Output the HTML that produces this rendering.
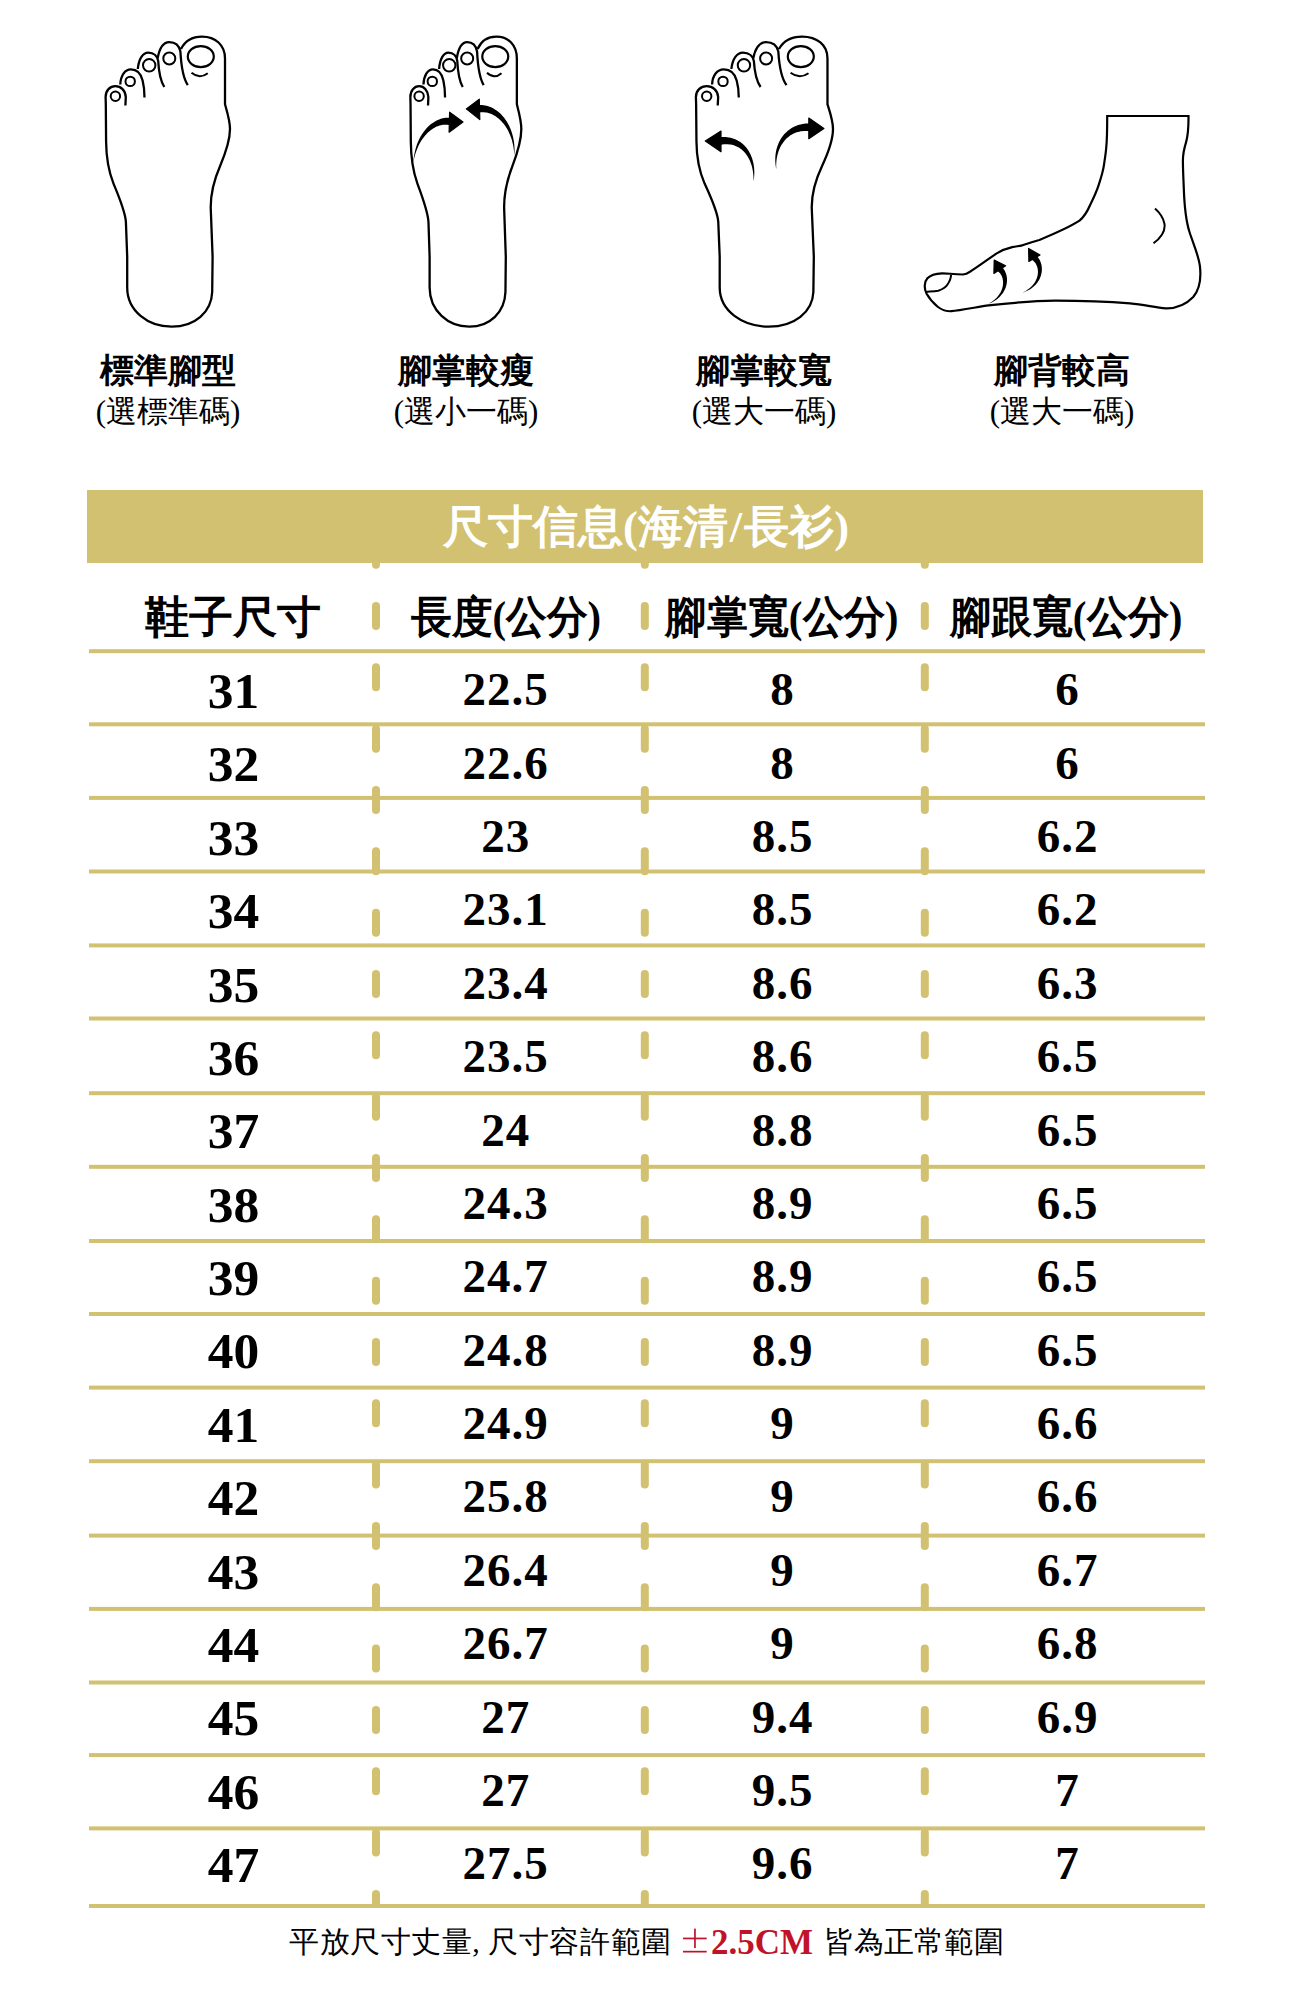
<!DOCTYPE html><html><head><meta charset="utf-8"><style>
html,body{margin:0;padding:0;background:#fff;}body{width:1292px;height:2000px;position:relative;overflow:hidden;font-family:"Liberation Serif",serif;color:#000;}
.t{position:absolute;white-space:nowrap;text-align:center;line-height:1;}
.lb{font-weight:bold;font-size:34px;width:300px;}
.sb{font-size:31px;width:300px;}
.n{font-weight:bold;font-size:47px;width:280px;letter-spacing:1px;text-indent:1px;}
.n1{font-weight:bold;font-size:51.5px;width:280px;}
.hd{font-weight:bold;font-size:44px;width:300px;}
</style></head><body>
<svg width="1292" height="2000" style="position:absolute;left:0;top:0"><g transform="translate(115.40,0) scale(1.0,1) translate(-115.4,0)"><path d="
M105.8,104 L105.6,97 C105.6,90.5 110,86.2 115.4,86.2 C121,86.2 125.4,90.5 125.8,97 L125.4,105.5
M120.3,84.5 C120.6,75.5 125,69.4 130.9,69.4 C137,69.4 141,74 142.6,80.5 C144,86 144.5,92 144.5,97.5
M137.8,69 C138.8,58.5 143,52.7 148.3,52.7 C154,52.7 157.4,56.5 158.2,61 C158.8,72 160.5,81 164.3,87
M157.6,58.5 C159.6,47.5 164,42.2 169.3,42.2 C175.5,42.2 179.2,46 180.4,51.5 C181.2,66 183,78 187.8,85.1
M181,49 C185,41 193,36.6 202,36.6 C215.5,36.6 225,45 225,58.5 L225,104.3
C227.5,113 230,121 230,129.1 C230,140 226.5,151 220,166.2 C214,180 210.7,195 210.7,207.2
L212.6,256.7 L212.2,292 C211.5,312 195,326.7 171.7,326.7 C148,326.7 127.2,311 127.2,287.6
L127.2,256.7 L125.9,222 C125.3,212 120,199 113.5,183.6 C108.5,171 106.2,155 106.1,141.5 L105.8,104
" fill="none" stroke="#000" stroke-width="2.3" vector-effect="non-scaling-stroke" stroke-linecap="butt" stroke-linejoin="round"/><path d="
M191.5,72.8 Q199.6,79.5 207.8,73.2
" fill="none" stroke="#000" stroke-width="2" vector-effect="non-scaling-stroke"/><ellipse cx="115.4" cy="96.3" rx="4.70" ry="4.7" fill="none" stroke="#000" stroke-width="2" vector-effect="non-scaling-stroke"/><ellipse cx="130.2" cy="81.4" rx="4.70" ry="4.7" fill="none" stroke="#000" stroke-width="2" vector-effect="non-scaling-stroke"/><ellipse cx="149.2" cy="65.3" rx="6.20" ry="6.2" fill="none" stroke="#000" stroke-width="2" vector-effect="non-scaling-stroke"/><ellipse cx="169.3" cy="58.5" rx="6.00" ry="6.0" fill="none" stroke="#000" stroke-width="2" vector-effect="non-scaling-stroke"/><ellipse cx="200.8" cy="56.6" rx="13.00" ry="10.5" fill="none" stroke="#000" stroke-width="2.2" vector-effect="non-scaling-stroke"/></g><g transform="translate(419.10,0) scale(0.892,1) translate(-115.4,0)"><path d="
M105.8,104 L105.6,97 C105.6,90.5 110,86.2 115.4,86.2 C121,86.2 125.4,90.5 125.8,97 L125.4,105.5
M120.3,84.5 C120.6,75.5 125,69.4 130.9,69.4 C137,69.4 141,74 142.6,80.5 C144,86 144.5,92 144.5,97.5
M137.8,69 C138.8,58.5 143,52.7 148.3,52.7 C154,52.7 157.4,56.5 158.2,61 C158.8,72 160.5,81 164.3,87
M157.6,58.5 C159.6,47.5 164,42.2 169.3,42.2 C175.5,42.2 179.2,46 180.4,51.5 C181.2,66 183,78 187.8,85.1
M181,49 C185,41 193,36.6 202,36.6 C215.5,36.6 225,45 225,58.5 L225,104.3
C227.5,113 230,121 230,129.1 C230,140 226.5,151 220,166.2 C214,180 210.7,195 210.7,207.2
L212.6,256.7 L212.2,292 C211.5,312 195,326.7 171.7,326.7 C148,326.7 127.2,311 127.2,287.6
L127.2,256.7 L125.9,222 C125.3,212 120,199 113.5,183.6 C108.5,171 106.2,155 106.1,141.5 L105.8,104
" fill="none" stroke="#000" stroke-width="2.3" vector-effect="non-scaling-stroke" stroke-linecap="butt" stroke-linejoin="round"/><path d="
M191.5,72.8 Q199.6,79.5 207.8,73.2
" fill="none" stroke="#000" stroke-width="2" vector-effect="non-scaling-stroke"/><ellipse cx="115.4" cy="96.3" rx="5.27" ry="4.7" fill="none" stroke="#000" stroke-width="2" vector-effect="non-scaling-stroke"/><ellipse cx="130.2" cy="81.4" rx="5.27" ry="4.7" fill="none" stroke="#000" stroke-width="2" vector-effect="non-scaling-stroke"/><ellipse cx="149.2" cy="65.3" rx="6.95" ry="6.2" fill="none" stroke="#000" stroke-width="2" vector-effect="non-scaling-stroke"/><ellipse cx="169.3" cy="58.5" rx="6.73" ry="6.0" fill="none" stroke="#000" stroke-width="2" vector-effect="non-scaling-stroke"/><ellipse cx="200.8" cy="56.6" rx="14.57" ry="10.5" fill="none" stroke="#000" stroke-width="2.2" vector-effect="non-scaling-stroke"/></g><g transform="translate(706.70,0) scale(1.102,1) translate(-115.4,0)"><path d="
M105.8,104 L105.6,97 C105.6,90.5 110,86.2 115.4,86.2 C121,86.2 125.4,90.5 125.8,97 L125.4,105.5
M120.3,84.5 C120.6,75.5 125,69.4 130.9,69.4 C137,69.4 141,74 142.6,80.5 C144,86 144.5,92 144.5,97.5
M137.8,69 C138.8,58.5 143,52.7 148.3,52.7 C154,52.7 157.4,56.5 158.2,61 C158.8,72 160.5,81 164.3,87
M157.6,58.5 C159.6,47.5 164,42.2 169.3,42.2 C175.5,42.2 179.2,46 180.4,51.5 C181.2,66 183,78 187.8,85.1
M181,49 C185,41 193,36.6 202,36.6 C215.5,36.6 225,45 225,58.5 L225,104.3
C227.5,113 230,121 230,129.1 C230,140 226.5,151 220,166.2 C214,180 210.7,195 210.7,207.2
L212.6,256.7 L212.2,292 C211.5,312 195,326.7 171.7,326.7 C148,326.7 127.2,311 127.2,287.6
L127.2,256.7 L125.9,222 C125.3,212 120,199 113.5,183.6 C108.5,171 106.2,155 106.1,141.5 L105.8,104
" fill="none" stroke="#000" stroke-width="2.3" vector-effect="non-scaling-stroke" stroke-linecap="butt" stroke-linejoin="round"/><path d="
M191.5,72.8 Q199.6,79.5 207.8,73.2
" fill="none" stroke="#000" stroke-width="2" vector-effect="non-scaling-stroke"/><ellipse cx="115.4" cy="96.3" rx="4.26" ry="4.7" fill="none" stroke="#000" stroke-width="2" vector-effect="non-scaling-stroke"/><ellipse cx="130.2" cy="81.4" rx="4.26" ry="4.7" fill="none" stroke="#000" stroke-width="2" vector-effect="non-scaling-stroke"/><ellipse cx="149.2" cy="65.3" rx="5.63" ry="6.2" fill="none" stroke="#000" stroke-width="2" vector-effect="non-scaling-stroke"/><ellipse cx="169.3" cy="58.5" rx="5.44" ry="6.0" fill="none" stroke="#000" stroke-width="2" vector-effect="non-scaling-stroke"/><ellipse cx="200.8" cy="56.6" rx="11.80" ry="10.5" fill="none" stroke="#000" stroke-width="2.2" vector-effect="non-scaling-stroke"/></g><path d="M449.6,112.2 L463,122 L449.1,132.2 Z" fill="#000" stroke="#000" stroke-width="1.2" stroke-linejoin="round"/><path d="M450.56,117.74 L449.38,117.65 L448.08,117.63 L446.78,117.67 L445.49,117.79 L444.20,117.98 L442.91,118.24 L441.63,118.57 L440.36,118.96 L439.11,119.42 L437.86,119.95 L436.63,120.53 L435.41,121.18 L434.21,121.89 L433.02,122.65 L431.86,123.48 L430.72,124.37 L429.59,125.31 L428.50,126.31 L427.42,127.37 L426.37,128.48 L425.35,129.65 L424.36,130.88 L423.40,132.16 L422.48,133.49 L421.58,134.88 L420.73,136.32 L419.90,137.82 L419.12,139.37 L418.38,140.97 L417.68,142.62 L417.02,144.33 L416.41,146.09 L415.85,147.90 L415.33,149.76 L414.87,151.67 L414.46,153.64 L414.10,155.65 L413.80,157.72 L413.56,159.83 L413.40,162.00 L413.40,162.00 L413.83,159.87 L414.31,157.81 L414.82,155.81 L415.39,153.87 L415.99,151.99 L416.65,150.18 L417.34,148.42 L418.08,146.74 L418.85,145.11 L419.66,143.55 L420.50,142.05 L421.37,140.61 L422.27,139.24 L423.20,137.93 L424.16,136.68 L425.14,135.50 L426.13,134.38 L427.15,133.32 L428.18,132.32 L429.23,131.39 L430.28,130.52 L431.35,129.71 L432.42,128.97 L433.49,128.28 L434.57,127.66 L435.65,127.09 L436.72,126.59 L437.79,126.15 L438.85,125.77 L439.90,125.44 L440.94,125.18 L441.96,124.97 L442.97,124.82 L443.95,124.73 L444.91,124.68 L445.85,124.69 L446.77,124.76 L447.65,124.87 L448.51,125.03 L449.44,125.26 Z" fill="#000"/><path d="M466.3,108.9 L479.3,99.2 L479.8,119.6 Z" fill="#000" stroke="#000" stroke-width="1.2" stroke-linejoin="round"/><path d="M479.23,112.49 L480.53,112.33 L481.73,112.24 L482.93,112.22 L484.13,112.28 L485.33,112.40 L486.53,112.59 L487.73,112.85 L488.92,113.18 L490.12,113.58 L491.30,114.04 L492.48,114.58 L493.65,115.19 L494.81,115.86 L495.96,116.60 L497.09,117.40 L498.20,118.27 L499.29,119.21 L500.36,120.21 L501.41,121.27 L502.43,122.39 L503.42,123.58 L504.37,124.82 L505.30,126.11 L506.19,127.47 L507.05,128.87 L507.86,130.33 L508.64,131.84 L509.37,133.40 L510.06,135.01 L510.71,136.67 L511.31,138.37 L511.85,140.12 L512.35,141.90 L512.79,143.73 L513.18,145.60 L513.52,147.51 L513.80,149.45 L514.02,151.44 L514.18,153.45 L514.30,155.50 L514.30,155.50 L514.46,153.45 L514.53,151.42 L514.53,149.40 L514.47,147.41 L514.34,145.45 L514.15,143.50 L513.90,141.59 L513.59,139.70 L513.22,137.85 L512.79,136.03 L512.31,134.24 L511.78,132.48 L511.18,130.76 L510.54,129.08 L509.85,127.45 L509.11,125.85 L508.31,124.29 L507.47,122.78 L506.58,121.32 L505.65,119.91 L504.67,118.54 L503.65,117.23 L502.58,115.97 L501.47,114.76 L500.32,113.62 L499.13,112.53 L497.89,111.50 L496.62,110.54 L495.31,109.64 L493.96,108.81 L492.57,108.05 L491.15,107.37 L489.69,106.76 L488.20,106.24 L486.67,105.79 L485.12,105.43 L483.54,105.16 L481.93,104.99 L480.31,104.90 L478.77,104.91 Z" fill="#000"/><path d="M705.3,140.9 L721,131.1 L721,151.7 Z" fill="#000" stroke="#000" stroke-width="1.2" stroke-linejoin="round"/><path d="M720.91,144.78 L722.48,144.53 L723.92,144.36 L725.33,144.26 L726.70,144.24 L728.05,144.28 L729.36,144.39 L730.65,144.57 L731.90,144.81 L733.13,145.12 L734.33,145.49 L735.50,145.92 L736.64,146.42 L737.76,146.98 L738.84,147.60 L739.90,148.28 L740.93,149.02 L741.92,149.82 L742.88,150.67 L743.81,151.59 L744.71,152.56 L745.57,153.59 L746.39,154.67 L747.18,155.81 L747.92,157.00 L748.62,158.23 L749.28,159.52 L749.90,160.85 L750.47,162.22 L750.99,163.64 L751.47,165.09 L751.90,166.59 L752.28,168.12 L752.61,169.69 L752.89,171.29 L753.12,172.92 L753.30,174.59 L753.42,176.28 L753.50,177.99 L753.52,179.73 L753.50,181.50 L753.50,181.50 L753.80,179.75 L754.02,178.01 L754.18,176.28 L754.28,174.56 L754.32,172.86 L754.30,171.16 L754.23,169.49 L754.09,167.83 L753.90,166.19 L753.65,164.58 L753.35,162.98 L752.98,161.42 L752.57,159.88 L752.09,158.37 L751.56,156.89 L750.97,155.45 L750.32,154.04 L749.62,152.66 L748.86,151.33 L748.04,150.04 L747.16,148.79 L746.23,147.58 L745.24,146.43 L744.19,145.32 L743.08,144.27 L741.91,143.28 L740.69,142.35 L739.40,141.48 L738.06,140.68 L736.67,139.94 L735.22,139.28 L733.72,138.69 L732.17,138.19 L730.56,137.76 L728.91,137.42 L727.21,137.16 L725.47,136.99 L723.69,136.91 L721.86,136.93 L720.09,137.02 Z" fill="#000"/><path d="M823.9,128.4 L808.8,118.1 L808.8,138.7 Z" fill="#000" stroke="#000" stroke-width="1.2" stroke-linejoin="round"/><path d="M809.44,123.40 L807.69,123.43 L805.88,123.54 L804.12,123.74 L802.39,124.02 L800.71,124.38 L799.07,124.81 L797.48,125.33 L795.94,125.92 L794.44,126.58 L793.00,127.31 L791.60,128.10 L790.26,128.96 L788.98,129.88 L787.75,130.86 L786.57,131.89 L785.45,132.98 L784.39,134.11 L783.38,135.30 L782.43,136.53 L781.54,137.80 L780.70,139.11 L779.92,140.46 L779.21,141.85 L778.55,143.27 L777.95,144.73 L777.40,146.22 L776.92,147.73 L776.50,149.27 L776.14,150.84 L775.84,152.43 L775.60,154.04 L775.42,155.67 L775.30,157.32 L775.25,158.98 L775.26,160.66 L775.33,162.35 L775.47,164.05 L775.67,165.76 L775.94,167.48 L776.30,169.20 L776.30,169.20 L776.23,167.45 L776.20,165.73 L776.22,164.03 L776.31,162.36 L776.46,160.71 L776.66,159.09 L776.92,157.50 L777.23,155.95 L777.60,154.43 L778.02,152.94 L778.49,151.49 L779.02,150.07 L779.59,148.70 L780.21,147.37 L780.88,146.08 L781.59,144.83 L782.35,143.64 L783.14,142.48 L783.98,141.38 L784.86,140.33 L785.78,139.32 L786.74,138.37 L787.73,137.48 L788.75,136.63 L789.81,135.85 L790.90,135.11 L792.01,134.44 L793.16,133.82 L794.34,133.26 L795.55,132.76 L796.78,132.32 L798.04,131.94 L799.32,131.63 L800.64,131.37 L801.98,131.18 L803.34,131.05 L804.74,130.98 L806.15,130.98 L807.60,131.05 L809.16,131.20 Z" fill="#000"/><path d="M1107.2,116 L1188.5,116 C1188.6,126 1187.8,136 1186.1,142.2 C1184.3,148 1182.9,153 1182.9,160.7 C1182.9,170 1183.5,180 1183.8,188.6 C1184.3,203 1185,218 1189.5,232 C1193,243 1198.5,255 1199.9,266 C1201.3,278 1199,290 1193.2,297 C1186,304.5 1176,308.5 1166,308.3 C1155,307.8 1145,304.5 1130,303.4 C1105,301.5 1080,300.8 1055,300.7 C1035,300.8 1015,302.5 988.5,305.4 C980,306.5 960,310.5 951.4,311.2 C947,311.5 941,309.5 938,307 C933,303 929,298 926.6,293.8 C924,289 924,282 927.4,278.3 C930,275.5 935,273.5 942.1,273.3 C948,273.2 953,274.5 963,274.5 C966,274.3 968,273.2 969.2,272.2 C975,268.8 985,261.5 996.3,253.6 C1001,250.8 1008,248 1012.2,247.1 C1016,246.3 1019,246.2 1021.4,245.6 C1027,244.2 1033,241.5 1039.4,240 C1055,233.5 1070,227 1079.5,220.7 C1085,216 1088,210 1090,205.3 C1094,197 1097,190 1098.4,185.8 C1101,178 1103,172 1103.9,165.4 C1105,158 1106,152 1106.3,146.8 C1107,140 1107.2,133 1107.2,116 Z" fill="none" stroke="#000" stroke-width="2.2" stroke-linejoin="miter"/><path d="M925.8,291.9 C930,291.5 934,291.5 938.2,290.7 C942,289.5 946,287 947.5,284.5 C949.5,281.5 951,278 951,274.9 M1155,208.6 C1160,213 1163.4,218 1164.5,224 C1165.3,230 1163.5,236 1153.5,243.3" fill="none" stroke="#000" stroke-width="2"/><path d="M994.2,260.1 L1005.6,265.7 L993.9,273.4 Z" fill="#000" stroke="#000" stroke-width="1.2" stroke-linejoin="round"/><path d="M997.55,271.08 L998.17,271.53 L998.70,271.95 L999.21,272.42 L999.69,272.93 L1000.15,273.47 L1000.58,274.05 L1000.98,274.67 L1001.35,275.33 L1001.69,276.02 L1002.00,276.74 L1002.27,277.50 L1002.51,278.28 L1002.70,279.09 L1002.86,279.92 L1002.97,280.78 L1003.05,281.66 L1003.07,282.56 L1003.05,283.48 L1002.99,284.41 L1002.88,285.35 L1002.71,286.31 L1002.50,287.27 L1002.23,288.25 L1001.91,289.22 L1001.54,290.20 L1001.10,291.19 L1000.61,292.17 L1000.07,293.14 L999.46,294.12 L998.79,295.08 L998.06,296.04 L997.27,296.98 L996.41,297.91 L995.48,298.83 L994.49,299.72 L993.43,300.60 L992.30,301.46 L991.10,302.29 L989.83,303.10 L988.50,303.90 L988.50,303.90 L989.95,303.33 L991.33,302.70 L992.65,302.02 L993.91,301.30 L995.11,300.54 L996.24,299.75 L997.32,298.92 L998.34,298.06 L999.30,297.18 L1000.21,296.27 L1001.06,295.33 L1001.84,294.36 L1002.58,293.38 L1003.25,292.38 L1003.87,291.36 L1004.43,290.32 L1004.94,289.28 L1005.39,288.22 L1005.79,287.15 L1006.12,286.07 L1006.41,284.99 L1006.64,283.91 L1006.81,282.83 L1006.93,281.74 L1007.00,280.67 L1007.01,279.59 L1006.96,278.53 L1006.86,277.47 L1006.71,276.43 L1006.50,275.40 L1006.24,274.39 L1005.92,273.39 L1005.55,272.42 L1005.12,271.47 L1004.64,270.55 L1004.10,269.66 L1003.50,268.80 L1002.85,267.98 L1002.14,267.20 L1001.45,266.52 Z" fill="#000"/><path d="M1028.6,248.4 L1040,254.9 L1028.9,261.4 Z" fill="#000" stroke="#000" stroke-width="1.2" stroke-linejoin="round"/><path d="M1032.28,260.11 L1032.93,260.56 L1033.47,260.98 L1033.98,261.45 L1034.48,261.97 L1034.95,262.52 L1035.39,263.12 L1035.81,263.76 L1036.19,264.43 L1036.54,265.14 L1036.86,265.88 L1037.13,266.65 L1037.37,267.46 L1037.57,268.29 L1037.73,269.14 L1037.84,270.02 L1037.91,270.92 L1037.93,271.84 L1037.91,272.77 L1037.83,273.71 L1037.70,274.67 L1037.53,275.64 L1037.29,276.61 L1037.01,277.58 L1036.67,278.56 L1036.26,279.54 L1035.81,280.52 L1035.29,281.49 L1034.70,282.45 L1034.06,283.41 L1033.35,284.35 L1032.57,285.28 L1031.73,286.19 L1030.81,287.08 L1029.83,287.95 L1028.78,288.79 L1027.65,289.61 L1026.45,290.40 L1025.17,291.16 L1023.82,291.89 L1022.40,292.60 L1022.40,292.60 L1023.92,292.13 L1025.37,291.58 L1026.76,290.98 L1028.08,290.34 L1029.34,289.64 L1030.54,288.91 L1031.68,288.13 L1032.75,287.32 L1033.76,286.47 L1034.71,285.59 L1035.61,284.68 L1036.44,283.73 L1037.21,282.76 L1037.92,281.77 L1038.57,280.75 L1039.17,279.72 L1039.70,278.67 L1040.17,277.60 L1040.59,276.52 L1040.95,275.43 L1041.24,274.33 L1041.49,273.23 L1041.67,272.13 L1041.80,271.02 L1041.86,269.92 L1041.88,268.82 L1041.83,267.73 L1041.73,266.65 L1041.57,265.59 L1041.36,264.53 L1041.08,263.50 L1040.76,262.48 L1040.37,261.49 L1039.93,260.52 L1039.42,259.58 L1038.86,258.67 L1038.25,257.80 L1037.57,256.96 L1036.83,256.17 L1036.12,255.49 Z" fill="#000"/><rect x="87" y="490" width="1116" height="73" fill="#D2C171"/><rect x="89" y="649.2" width="1116" height="4" fill="#D2C171"/><rect x="89" y="722.3" width="1116" height="4" fill="#D2C171"/><rect x="89" y="795.9" width="1116" height="4" fill="#D2C171"/><rect x="89" y="869.5" width="1116" height="4" fill="#D2C171"/><rect x="89" y="943.4" width="1116" height="4" fill="#D2C171"/><rect x="89" y="1016.5" width="1116" height="4" fill="#D2C171"/><rect x="89" y="1091.2" width="1116" height="4" fill="#D2C171"/><rect x="89" y="1164.8" width="1116" height="4" fill="#D2C171"/><rect x="89" y="1239.0" width="1116" height="4" fill="#D2C171"/><rect x="89" y="1312.0" width="1116" height="4" fill="#D2C171"/><rect x="89" y="1385.6" width="1116" height="4" fill="#D2C171"/><rect x="89" y="1459.2" width="1116" height="4" fill="#D2C171"/><rect x="89" y="1533.6" width="1116" height="4" fill="#D2C171"/><rect x="89" y="1606.9" width="1116" height="4" fill="#D2C171"/><rect x="89" y="1680.5" width="1116" height="4" fill="#D2C171"/><rect x="89" y="1753.1" width="1116" height="4" fill="#D2C171"/><rect x="89" y="1826.4" width="1116" height="4" fill="#D2C171"/><rect x="89" y="1904.0" width="1116" height="4" fill="#D2C171"/><clipPath id="vc"><rect x="0" y="563" width="1292" height="1345"/></clipPath><g clip-path="url(#vc)"><rect x="372.0" y="540.67" width="8" height="28" rx="4" ry="4" fill="#D2C171"/><rect x="372.0" y="602.00" width="8" height="28" rx="4" ry="4" fill="#D2C171"/><rect x="372.0" y="663.33" width="8" height="28" rx="4" ry="4" fill="#D2C171"/><rect x="372.0" y="724.66" width="8" height="28" rx="4" ry="4" fill="#D2C171"/><rect x="372.0" y="785.99" width="8" height="28" rx="4" ry="4" fill="#D2C171"/><rect x="372.0" y="847.32" width="8" height="28" rx="4" ry="4" fill="#D2C171"/><rect x="372.0" y="908.65" width="8" height="28" rx="4" ry="4" fill="#D2C171"/><rect x="372.0" y="969.98" width="8" height="28" rx="4" ry="4" fill="#D2C171"/><rect x="372.0" y="1031.31" width="8" height="28" rx="4" ry="4" fill="#D2C171"/><rect x="372.0" y="1092.64" width="8" height="28" rx="4" ry="4" fill="#D2C171"/><rect x="372.0" y="1153.97" width="8" height="28" rx="4" ry="4" fill="#D2C171"/><rect x="372.0" y="1215.30" width="8" height="28" rx="4" ry="4" fill="#D2C171"/><rect x="372.0" y="1276.63" width="8" height="28" rx="4" ry="4" fill="#D2C171"/><rect x="372.0" y="1337.96" width="8" height="28" rx="4" ry="4" fill="#D2C171"/><rect x="372.0" y="1399.29" width="8" height="28" rx="4" ry="4" fill="#D2C171"/><rect x="372.0" y="1460.62" width="8" height="28" rx="4" ry="4" fill="#D2C171"/><rect x="372.0" y="1521.95" width="8" height="28" rx="4" ry="4" fill="#D2C171"/><rect x="372.0" y="1583.28" width="8" height="28" rx="4" ry="4" fill="#D2C171"/><rect x="372.0" y="1644.61" width="8" height="28" rx="4" ry="4" fill="#D2C171"/><rect x="372.0" y="1705.94" width="8" height="28" rx="4" ry="4" fill="#D2C171"/><rect x="372.0" y="1767.27" width="8" height="28" rx="4" ry="4" fill="#D2C171"/><rect x="372.0" y="1828.60" width="8" height="28" rx="4" ry="4" fill="#D2C171"/><rect x="372.0" y="1889.93" width="8" height="28" rx="4" ry="4" fill="#D2C171"/><rect x="640.8" y="540.67" width="8" height="28" rx="4" ry="4" fill="#D2C171"/><rect x="640.8" y="602.00" width="8" height="28" rx="4" ry="4" fill="#D2C171"/><rect x="640.8" y="663.33" width="8" height="28" rx="4" ry="4" fill="#D2C171"/><rect x="640.8" y="724.66" width="8" height="28" rx="4" ry="4" fill="#D2C171"/><rect x="640.8" y="785.99" width="8" height="28" rx="4" ry="4" fill="#D2C171"/><rect x="640.8" y="847.32" width="8" height="28" rx="4" ry="4" fill="#D2C171"/><rect x="640.8" y="908.65" width="8" height="28" rx="4" ry="4" fill="#D2C171"/><rect x="640.8" y="969.98" width="8" height="28" rx="4" ry="4" fill="#D2C171"/><rect x="640.8" y="1031.31" width="8" height="28" rx="4" ry="4" fill="#D2C171"/><rect x="640.8" y="1092.64" width="8" height="28" rx="4" ry="4" fill="#D2C171"/><rect x="640.8" y="1153.97" width="8" height="28" rx="4" ry="4" fill="#D2C171"/><rect x="640.8" y="1215.30" width="8" height="28" rx="4" ry="4" fill="#D2C171"/><rect x="640.8" y="1276.63" width="8" height="28" rx="4" ry="4" fill="#D2C171"/><rect x="640.8" y="1337.96" width="8" height="28" rx="4" ry="4" fill="#D2C171"/><rect x="640.8" y="1399.29" width="8" height="28" rx="4" ry="4" fill="#D2C171"/><rect x="640.8" y="1460.62" width="8" height="28" rx="4" ry="4" fill="#D2C171"/><rect x="640.8" y="1521.95" width="8" height="28" rx="4" ry="4" fill="#D2C171"/><rect x="640.8" y="1583.28" width="8" height="28" rx="4" ry="4" fill="#D2C171"/><rect x="640.8" y="1644.61" width="8" height="28" rx="4" ry="4" fill="#D2C171"/><rect x="640.8" y="1705.94" width="8" height="28" rx="4" ry="4" fill="#D2C171"/><rect x="640.8" y="1767.27" width="8" height="28" rx="4" ry="4" fill="#D2C171"/><rect x="640.8" y="1828.60" width="8" height="28" rx="4" ry="4" fill="#D2C171"/><rect x="640.8" y="1889.93" width="8" height="28" rx="4" ry="4" fill="#D2C171"/><rect x="920.8" y="540.67" width="8" height="28" rx="4" ry="4" fill="#D2C171"/><rect x="920.8" y="602.00" width="8" height="28" rx="4" ry="4" fill="#D2C171"/><rect x="920.8" y="663.33" width="8" height="28" rx="4" ry="4" fill="#D2C171"/><rect x="920.8" y="724.66" width="8" height="28" rx="4" ry="4" fill="#D2C171"/><rect x="920.8" y="785.99" width="8" height="28" rx="4" ry="4" fill="#D2C171"/><rect x="920.8" y="847.32" width="8" height="28" rx="4" ry="4" fill="#D2C171"/><rect x="920.8" y="908.65" width="8" height="28" rx="4" ry="4" fill="#D2C171"/><rect x="920.8" y="969.98" width="8" height="28" rx="4" ry="4" fill="#D2C171"/><rect x="920.8" y="1031.31" width="8" height="28" rx="4" ry="4" fill="#D2C171"/><rect x="920.8" y="1092.64" width="8" height="28" rx="4" ry="4" fill="#D2C171"/><rect x="920.8" y="1153.97" width="8" height="28" rx="4" ry="4" fill="#D2C171"/><rect x="920.8" y="1215.30" width="8" height="28" rx="4" ry="4" fill="#D2C171"/><rect x="920.8" y="1276.63" width="8" height="28" rx="4" ry="4" fill="#D2C171"/><rect x="920.8" y="1337.96" width="8" height="28" rx="4" ry="4" fill="#D2C171"/><rect x="920.8" y="1399.29" width="8" height="28" rx="4" ry="4" fill="#D2C171"/><rect x="920.8" y="1460.62" width="8" height="28" rx="4" ry="4" fill="#D2C171"/><rect x="920.8" y="1521.95" width="8" height="28" rx="4" ry="4" fill="#D2C171"/><rect x="920.8" y="1583.28" width="8" height="28" rx="4" ry="4" fill="#D2C171"/><rect x="920.8" y="1644.61" width="8" height="28" rx="4" ry="4" fill="#D2C171"/><rect x="920.8" y="1705.94" width="8" height="28" rx="4" ry="4" fill="#D2C171"/><rect x="920.8" y="1767.27" width="8" height="28" rx="4" ry="4" fill="#D2C171"/><rect x="920.8" y="1828.60" width="8" height="28" rx="4" ry="4" fill="#D2C171"/><rect x="920.8" y="1889.93" width="8" height="28" rx="4" ry="4" fill="#D2C171"/></g></svg>
<div class="t lb" style="left:18px;top:354px">標準腳型</div>
<div class="t sb" style="left:18px;top:395.5px">(選標準碼)</div>
<div class="t lb" style="left:316px;top:354px">腳掌較瘦</div>
<div class="t sb" style="left:316px;top:395.5px">(選小一碼)</div>
<div class="t lb" style="left:614px;top:354px">腳掌較寬</div>
<div class="t sb" style="left:614px;top:395.5px">(選大一碼)</div>
<div class="t lb" style="left:912px;top:354px">腳背較高</div>
<div class="t sb" style="left:912px;top:395.5px">(選大一碼)</div>
<div class="t" style="left:346px;width:600px;top:505px;font-size:44.5px;font-weight:bold;color:#fff">尺寸信息(海清<span style="margin:0 2px">/</span>長衫)</div>
<div class="t hd" style="left:82.5px;top:596px;transform:scaleX(1.0)">鞋子尺寸</div>
<div class="t hd" style="left:355.5px;top:596px;transform:scaleX(0.925)">長度(公分)</div>
<div class="t hd" style="left:632px;top:596px;transform:scaleX(0.935)">腳掌寬(公分)</div>
<div class="t hd" style="left:916px;top:596px;transform:scaleX(0.934)">腳跟寬(公分)</div>
<div class="t n1" style="left:93.5px;top:665.0px">31</div>
<div class="t n" style="left:365.2px;top:666.2px">22.5</div>
<div class="t n" style="left:642px;top:666.2px">8</div>
<div class="t n" style="left:927px;top:666.2px">6</div>
<div class="t n1" style="left:93.5px;top:738.4px">32</div>
<div class="t n" style="left:365.2px;top:739.6px">22.6</div>
<div class="t n" style="left:642px;top:739.6px">8</div>
<div class="t n" style="left:927px;top:739.6px">6</div>
<div class="t n1" style="left:93.5px;top:811.8px">33</div>
<div class="t n" style="left:365.2px;top:813.0px">23</div>
<div class="t n" style="left:642px;top:813.0px">8.5</div>
<div class="t n" style="left:927px;top:813.0px">6.2</div>
<div class="t n1" style="left:93.5px;top:885.1px">34</div>
<div class="t n" style="left:365.2px;top:886.3px">23.1</div>
<div class="t n" style="left:642px;top:886.3px">8.5</div>
<div class="t n" style="left:927px;top:886.3px">6.2</div>
<div class="t n1" style="left:93.5px;top:958.5px">35</div>
<div class="t n" style="left:365.2px;top:959.7px">23.4</div>
<div class="t n" style="left:642px;top:959.7px">8.6</div>
<div class="t n" style="left:927px;top:959.7px">6.3</div>
<div class="t n1" style="left:93.5px;top:1031.9px">36</div>
<div class="t n" style="left:365.2px;top:1033.1px">23.5</div>
<div class="t n" style="left:642px;top:1033.1px">8.6</div>
<div class="t n" style="left:927px;top:1033.1px">6.5</div>
<div class="t n1" style="left:93.5px;top:1105.3px">37</div>
<div class="t n" style="left:365.2px;top:1106.5px">24</div>
<div class="t n" style="left:642px;top:1106.5px">8.8</div>
<div class="t n" style="left:927px;top:1106.5px">6.5</div>
<div class="t n1" style="left:93.5px;top:1178.6px">38</div>
<div class="t n" style="left:365.2px;top:1179.8px">24.3</div>
<div class="t n" style="left:642px;top:1179.8px">8.9</div>
<div class="t n" style="left:927px;top:1179.8px">6.5</div>
<div class="t n1" style="left:93.5px;top:1252.0px">39</div>
<div class="t n" style="left:365.2px;top:1253.2px">24.7</div>
<div class="t n" style="left:642px;top:1253.2px">8.9</div>
<div class="t n" style="left:927px;top:1253.2px">6.5</div>
<div class="t n1" style="left:93.5px;top:1325.4px">40</div>
<div class="t n" style="left:365.2px;top:1326.6px">24.8</div>
<div class="t n" style="left:642px;top:1326.6px">8.9</div>
<div class="t n" style="left:927px;top:1326.6px">6.5</div>
<div class="t n1" style="left:93.5px;top:1398.8px">41</div>
<div class="t n" style="left:365.2px;top:1400.0px">24.9</div>
<div class="t n" style="left:642px;top:1400.0px">9</div>
<div class="t n" style="left:927px;top:1400.0px">6.6</div>
<div class="t n1" style="left:93.5px;top:1472.1px">42</div>
<div class="t n" style="left:365.2px;top:1473.3px">25.8</div>
<div class="t n" style="left:642px;top:1473.3px">9</div>
<div class="t n" style="left:927px;top:1473.3px">6.6</div>
<div class="t n1" style="left:93.5px;top:1545.5px">43</div>
<div class="t n" style="left:365.2px;top:1546.7px">26.4</div>
<div class="t n" style="left:642px;top:1546.7px">9</div>
<div class="t n" style="left:927px;top:1546.7px">6.7</div>
<div class="t n1" style="left:93.5px;top:1618.9px">44</div>
<div class="t n" style="left:365.2px;top:1620.1px">26.7</div>
<div class="t n" style="left:642px;top:1620.1px">9</div>
<div class="t n" style="left:927px;top:1620.1px">6.8</div>
<div class="t n1" style="left:93.5px;top:1692.3px">45</div>
<div class="t n" style="left:365.2px;top:1693.5px">27</div>
<div class="t n" style="left:642px;top:1693.5px">9.4</div>
<div class="t n" style="left:927px;top:1693.5px">6.9</div>
<div class="t n1" style="left:93.5px;top:1765.6px">46</div>
<div class="t n" style="left:365.2px;top:1766.8px">27</div>
<div class="t n" style="left:642px;top:1766.8px">9.5</div>
<div class="t n" style="left:927px;top:1766.8px">7</div>
<div class="t n1" style="left:93.5px;top:1839.0px">47</div>
<div class="t n" style="left:365.2px;top:1840.2px">27.5</div>
<div class="t n" style="left:642px;top:1840.2px">9.6</div>
<div class="t n" style="left:927px;top:1840.2px">7</div>
<div class="t" style="left:289px;top:1927px;font-size:30px;letter-spacing:0.55px;text-align:left" id="f1">平放尺寸丈量, 尺寸容許範圍</div>
<svg width="30" height="30" style="position:absolute;left:680px;top:1925px"><rect x="3" y="12.6" width="23.7" height="1.7" fill="#C01228"/><rect x="3" y="25.8" width="23.7" height="1.7" fill="#C01228"/><rect x="14.1" y="3.6" width="1.7" height="19.5" fill="#C01228"/></svg>
<div class="t" style="left:711px;top:1925px;font-size:35px;font-weight:bold;color:#C01228;text-align:left" id="f2">2.5CM</div>
<div class="t" style="left:824px;top:1927px;font-size:30px;text-align:left" id="f3">皆為正常範圍</div>
</body></html>
